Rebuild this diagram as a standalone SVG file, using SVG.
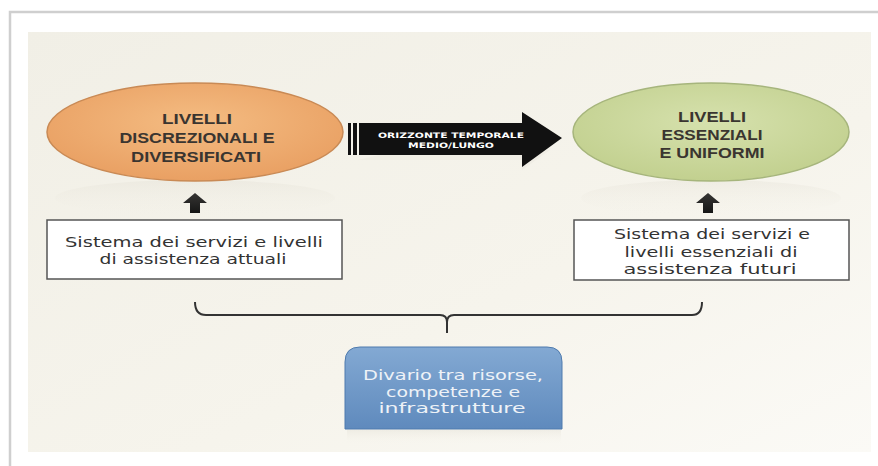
<svg xmlns="http://www.w3.org/2000/svg" width="878" height="466" viewBox="0 0 878 466">
<defs>
<linearGradient id="bg" x1="0" y1="0" x2="1" y2="1">
<stop offset="0" stop-color="#f1efe6"/>
<stop offset="0.6" stop-color="#f6f4ec"/>
<stop offset="1" stop-color="#fbfaf6"/>
</linearGradient>
<radialGradient id="gOr" cx="0.5" cy="0.4" r="0.6">
<stop offset="0" stop-color="#f4bc82"/>
<stop offset="1" stop-color="#e9a063"/>
</radialGradient>
<radialGradient id="gGr" cx="0.5" cy="0.4" r="0.6">
<stop offset="0" stop-color="#d6e1ad"/>
<stop offset="1" stop-color="#c2d08f"/>
</radialGradient>
<linearGradient id="gBl" x1="0" y1="0" x2="0" y2="1">
<stop offset="0" stop-color="#83a9d3"/>
<stop offset="1" stop-color="#5f8abd"/>
</linearGradient>
<linearGradient id="refl" x1="0" y1="0" x2="0" y2="1">
<stop offset="0" stop-color="#dcd8cc" stop-opacity="0.6"/>
<stop offset="1" stop-color="#f3f1e9" stop-opacity="0"/>
</linearGradient>
<style>
.ell{font-family:"Liberation Sans","DejaVu Sans",sans-serif;font-weight:bold;font-size:15px;fill:#3a3530;text-anchor:middle}
.box{font-family:"DejaVu Sans","Liberation Sans",sans-serif;font-size:14px;fill:#333;text-anchor:middle}
.blu{font-family:"DejaVu Sans","Liberation Sans",sans-serif;font-size:14px;fill:#eef2f7;text-anchor:middle}
.arr{font-family:"DejaVu Sans","Liberation Sans",sans-serif;font-weight:bold;font-size:7.5px;fill:#ffffff;text-anchor:middle}
.rect{fill:#ffffff;stroke:#555;stroke-width:1.5}
.up{fill:#111}
</style>
</defs>
<rect x="0" y="0" width="878" height="466" fill="#ffffff"/>
<rect x="10" y="12" width="880" height="470" fill="#ffffff" stroke="#cfcfcf" stroke-width="2.5"/>
<rect x="28" y="32" width="843" height="420" fill="url(#bg)"/>

<g id="connectors">
<path d="M195,302 Q195,315 206,315 L440,315 Q447,315 447,322 L447,333 M447,322 Q447,315 454,315 L692,315 Q702,315 702,302" fill="none" stroke="#333" stroke-width="2"/>
<polygon class="up" points="183,203 195,193 207,203 200,203 200,213 190,213 190,203"/>
<polygon class="up" points="696,203 708,193 720,203 713,203 713,213 703,213 703,203"/>
</g>

<g id="node-orange">
<ellipse cx="195" cy="198" rx="140" ry="18" fill="url(#refl)" opacity="0.45"/>
<ellipse cx="195" cy="132" rx="148" ry="49" fill="url(#gOr)" stroke="#c98a55" stroke-width="1.5"/>
<text class="ell" x="197" y="124" textLength="70" lengthAdjust="spacingAndGlyphs">LIVELLI</text>
<text class="ell" x="197" y="143" textLength="155" lengthAdjust="spacingAndGlyphs">DISCREZIONALI E</text>
<text class="ell" x="196" y="162" textLength="130" lengthAdjust="spacingAndGlyphs">DIVERSIFICATI</text>
</g>

<g id="node-arrow">
<polygon points="358,160 522,160 522,170 550,150 400,150" fill="#e4e1d8" opacity="0.3"/>
<rect x="348" y="123" width="3" height="32" fill="#111"/>
<rect x="353" y="123" width="4" height="32" fill="#111"/>
<polygon points="359,123 522,123 522,112 562,138 522,167 522,155 359,155" fill="#111"/>
<text class="arr" x="451" y="138" textLength="146" lengthAdjust="spacingAndGlyphs">ORIZZONTE TEMPORALE</text>
<text class="arr" x="451" y="148" textLength="86" lengthAdjust="spacingAndGlyphs">MEDIO/LUNGO</text>
</g>

<g id="node-green">
<ellipse cx="711" cy="198" rx="130" ry="18" fill="url(#refl)" opacity="0.45"/>
<ellipse cx="711" cy="132" rx="138" ry="49" fill="url(#gGr)" stroke="#a6b57c" stroke-width="1.5"/>
<text class="ell" x="712" y="122" textLength="68" lengthAdjust="spacingAndGlyphs">LIVELLI</text>
<text class="ell" x="712" y="140" textLength="101" lengthAdjust="spacingAndGlyphs">ESSENZIALI</text>
<text class="ell" x="712" y="158" textLength="105" lengthAdjust="spacingAndGlyphs">E UNIFORMI</text>
</g>

<g id="box-left">
<rect class="rect" x="47" y="220" width="295" height="59"/>
<text class="box" x="194" y="247" textLength="258" lengthAdjust="spacingAndGlyphs">Sistema dei servizi e livelli</text>
<text class="box" x="193" y="264" textLength="187" lengthAdjust="spacingAndGlyphs">di assistenza attuali</text>
</g>

<g id="box-right">
<rect class="rect" x="574" y="220" width="275" height="60"/>
<text class="box" x="712" y="239" textLength="196" lengthAdjust="spacingAndGlyphs">Sistema dei servizi e</text>
<text class="box" x="711" y="257" textLength="173" lengthAdjust="spacingAndGlyphs">livelli essenziali di</text>
<text class="box" x="710" y="274" textLength="173" lengthAdjust="spacingAndGlyphs">assistenza futuri</text>
</g>

<g id="node-blue">
<rect x="347" y="430" width="214" height="14" fill="url(#refl)" opacity="0.5"/>
<path d="M345,429 L345,362 Q345,347 360,347 L547,347 Q562,347 562,362 L562,429 Z" fill="url(#gBl)" stroke="#4f7bae" stroke-width="1"/>
<text class="blu" x="453" y="380" textLength="180" lengthAdjust="spacingAndGlyphs">Divario tra risorse,</text>
<text class="blu" x="453" y="397" textLength="134" lengthAdjust="spacingAndGlyphs">competenze e</text>
<text class="blu" x="452" y="413" textLength="147" lengthAdjust="spacingAndGlyphs">infrastrutture</text>
</g>
</svg>
